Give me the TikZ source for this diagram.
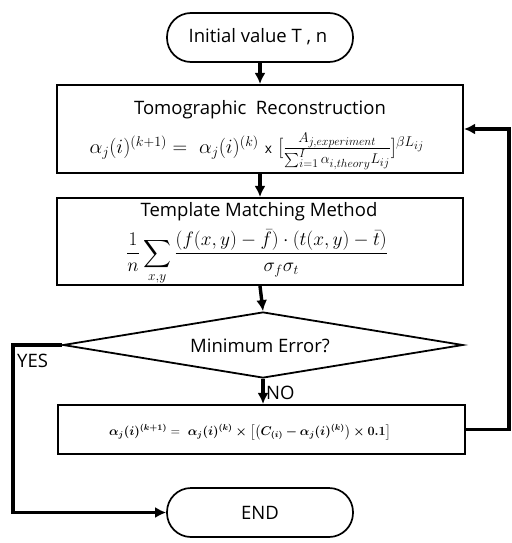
\documentclass[tikz,border=0pt]{standalone}
\usepackage{graphicx}
\usepackage{amsmath,bm}
\usepackage[no-math]{fontspec}
\newfontfamily\labelfont{Open Sans}
\usetikzlibrary{shapes.geometric,arrows.meta}
\tikzset{
  terminal/.style={draw,line width=1.7pt,rounded corners=24pt,minimum width=186pt,minimum height=49pt,inner sep=0pt},
  procbox/.style={draw,line width=2.1pt,inner sep=0pt},
  decision/.style={draw,diamond,line width=1.8pt,minimum width=400pt,minimum height=66pt,inner sep=0pt,aspect=6.06},
  conn/.style={line width=3.4pt,-{Latex[length=11pt,width=11pt]}},
  txt/.style={font=\labelfont\fontsize{18.5}{22}\selectfont,inner sep=0pt},
  mth/.style={font=\fontsize{20.74}{24}\selectfont,inner sep=0pt},
  sigmth/.style={font=\fontsize{17.28}{21}\selectfont,inner sep=0pt},
  smallmth/.style={font=\fontsize{12}{15}\selectfont,inner sep=0pt},
}
\newcommand{\updaterule}{\ensuremath{\bm{\alpha_j(i)^{(k+1)}} =\ \bm{\alpha_j(i)^{(k)}}\bm{\times}\bigl[\bigl(\bm{C_{(i)}}\bm{-}\bm{\alpha_j(i)^{(k)}}\bigr)\bm{\times}\bm{0.1}\bigr]}}
\begin{document}
\begin{tikzpicture}[x=1pt,y=-1pt]
\useasboundingbox (0,0) rectangle (511,543);
% flow chart shapes
\node[terminal] (start) at (260,37.5) {};
\node[txt] (starttxt) at (258,37) {Initial value T , n};
\node[procbox,minimum width=406pt,minimum height=88pt] (recon) at (260,129) {};
\node[txt] (recontitle) at (260,110) {Tomographic\ \ Reconstruction};
\node[mth] (reconeq) at (257,151) {\scalebox{0.98}{$\alpha_j(i)^{(k+1)} =\ \alpha_j(i)^{(k)}\ \text{\labelfont\fontsize{14}{16}\selectfont x}\ [\frac{A_{j,experiment}}{\sum_{i=1}^{I}\alpha_{i,theory}L_{ij}}]^{\beta L_{ij}}$}};
\node[procbox,minimum width=406pt,minimum height=87pt] (match) at (260,241.5) {};
\node[txt] (matchtitle) at (259,211.5) {Template Matching Method};
\node[sigmth] (matcheq) at (257,257.5) {\scalebox{1.12}{$\displaystyle\frac{1}{n}\sum_{x,y}\frac{(f(x,y)-\bar{f})\cdot(t(x,y)-\bar{t})}{\sigma_f\sigma_t}$}};
\node[decision] (dec) at (263,345) {};
\node[txt] (dectxt) at (260,346) {Minimum Error?};
\node[procbox,minimum width=407pt,minimum height=49pt] (update) at (261.5,429.5) {};
\node[smallmth] (updateeq) at (250,432) {\scalebox{1.05}{\updaterule}};
\node[terminal] (finish) at (260,512.5) {};
\node[txt] (finishtxt) at (260,513) {END};
% routing points
\coordinate (loopx) at (509,0);
\coordinate (yesx) at (13,0);
% connectors
\draw[conn] (start.south) -- (recon.north);
\draw[conn] (recon.south) -- (match.north);
\draw[conn] (match.south) -- (dec.north);
\draw[conn] (dec.south) -- (dec.south |- update.north);
\node[txt,anchor=west] (nolbl) at (266,393) {NO};
\draw[conn] (update.east) -- (update.east -| loopx) |- (recon.east);
\draw[conn] (dec.west) -- (dec.west -| yesx) |- (finish.west);
\node[txt,anchor=west] (yeslbl) at (17,361) {YES};
\end{tikzpicture}
\end{document}
